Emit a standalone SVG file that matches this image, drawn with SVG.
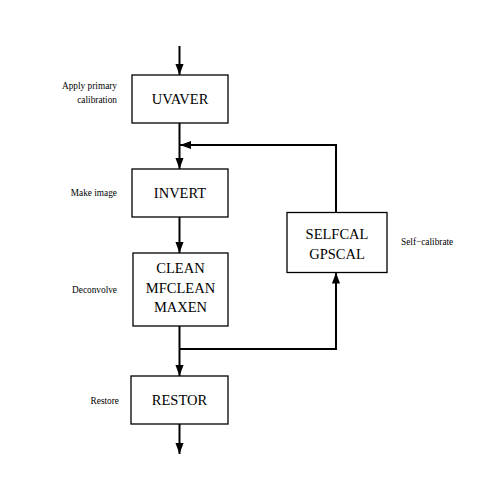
<svg xmlns="http://www.w3.org/2000/svg" width="496" height="496" viewBox="0 0 496 496">
<defs>
<marker id="ah" markerUnits="userSpaceOnUse" markerWidth="11" markerHeight="16" refX="15" refY="5.5" viewBox="0 0 15 11" orient="auto">
<path d="M0,0 L15,5.5 L0,11 Z" fill="#000"/>
</marker>
<style>
.box{fill:#fff;stroke:#000;stroke-width:1.3}
text{font-family:'Liberation Serif','DejaVu Serif',serif;fill:#000}
.bt{font-size:14.5px;text-anchor:middle}
.lb{font-size:9.3px}
.ln{fill:none;stroke:#000;stroke-width:2}
</style>
</defs>
<rect width="496" height="496" fill="#fff"/>
<g id="connectors">
<path class="ln" d="M179.5,46 V75" marker-end="url(#ah)"/>
<path class="ln" d="M179.5,123 V169" marker-end="url(#ah)"/>
<path class="ln" d="M179.5,217 V253" marker-end="url(#ah)"/>
<path class="ln" d="M179.5,326 V376" marker-end="url(#ah)"/>
<path class="ln" d="M179.5,424 V454" marker-end="url(#ah)"/>
<path class="ln" d="M179.5,349 H336 V272.5" marker-end="url(#ah)"/>
<path class="ln" d="M336,212.5 V145 H180" marker-end="url(#ah)"/>
</g>
<g id="uvaver">
<rect class="box" x="132" y="75" width="96" height="48"/>
<text class="bt" x="180" y="104">UVAVER</text>
<text class="lb" x="117" y="89" text-anchor="end">Apply primary</text>
<text class="lb" x="117" y="103" text-anchor="end">calibration</text>
</g>
<g id="invert">
<rect class="box" x="132" y="169" width="96" height="48"/>
<text class="bt" x="180" y="198">INVERT</text>
<text class="lb" x="117" y="196" text-anchor="end">Make image</text>
</g>
<g id="clean">
<rect class="box" x="133" y="253" width="95" height="73"/>
<text class="bt" x="180.5" y="273">CLEAN</text>
<text class="bt" x="180.5" y="293">MFCLEAN</text>
<text class="bt" x="180.5" y="312">MAXEN</text>
<text class="lb" x="117" y="293" text-anchor="end">Deconvolve</text>
</g>
<g id="selfcal">
<rect class="box" x="287" y="212.5" width="100" height="60"/>
<text class="bt" x="337" y="238.5">SELFCAL</text>
<text class="bt" x="337" y="258.5">GPSCAL</text>
<text class="lb" x="401" y="245">Self−calibrate</text>
</g>
<g id="restor">
<rect class="box" x="131" y="376" width="97" height="48"/>
<text class="bt" x="179.5" y="405">RESTOR</text>
<text class="lb" x="119" y="404" text-anchor="end">Restore</text>
</g>
</svg>
